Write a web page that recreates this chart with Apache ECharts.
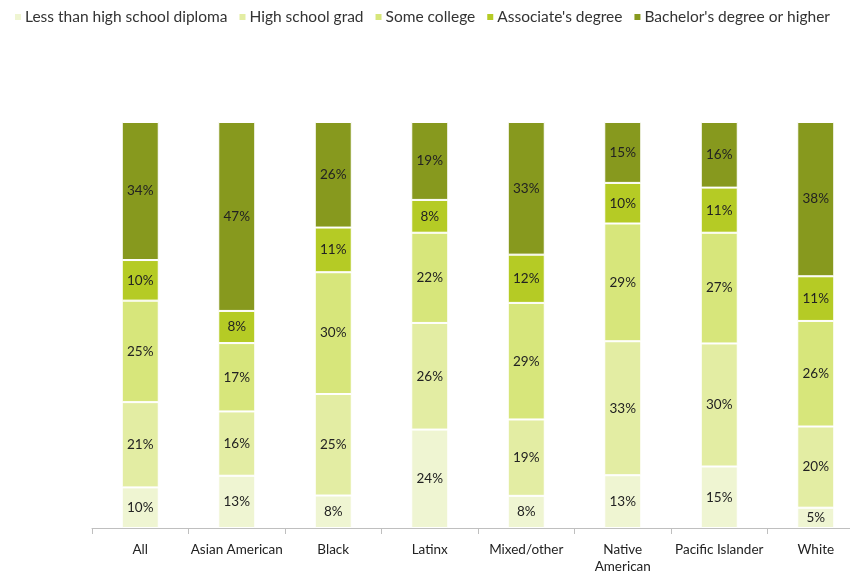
<!DOCTYPE html>
<html>
<head>
<meta charset="utf-8">
<script src="https://cdn.jsdelivr.net/npm/echarts@6/dist/echarts.min.js"></script>
<style>
  html, body { margin: 0; padding: 0; background: #fff; overflow: hidden; }
  #chart { width: 880px; height: 575px; }
</style>
</head>
<body>
<div id="chart"></div>
<script>
const categories = ['All', 'Asian American', 'Black', 'Latinx', 'Mixed/other', 'Native\nAmerican', 'Pacific Islander', 'White'];
const seriesNames = ['Less than high school diploma', 'High school grad', 'Some college', "Associate's degree", "Bachelor's degree or higher"];
const lessThanHS = [10, 13, 8, 24, 8, 13, 15, 5];
const hsGrad     = [21, 16, 25, 26, 19, 33, 30, 20];
const someCollege= [25, 17, 30, 22, 29, 29, 27, 26];
const associates = [10, 8, 11, 8, 12, 10, 11, 11];
const bachelors  = [34, 47, 26, 19, 33, 15, 16, 38];
const colors = ['#eff5d2', '#e3eda3', '#d7e67b', '#b5cb25', '#87991e'];

const groups = [lessThanHS, hsGrad, someCollege, associates, bachelors];
// each column is shown as a 100% stack of its rounded shares
const totals = categories.map((_, i) => groups.reduce((s, g) => s + g[i], 0));

const chart = echarts.init(document.getElementById('chart'));
chart.setOption({
  animation: false,
  textStyle: { fontFamily: 'Lato, "Open Sans", sans-serif' },
  legend: {
    left: 8, top: 4, width: 860,
    itemWidth: 8, itemHeight: 8, itemGap: 10,
    icon: 'rect',
    textStyle: { fontSize: 15.5, color: '#333', padding: [0, 0, 0, -2] },
    data: seriesNames
  },
  grid: { left: 92, top: 122, width: 772, height: 409 },
  xAxis: {
    type: 'category',
    data: categories,
    axisLine: { lineStyle: { color: '#bfbfbf' } },
    axisTick: { show: true, length: 6, lineStyle: { color: '#bfbfbf' } },
    axisLabel: { color: '#222', fontSize: 13.5, margin: 13, lineHeight: 17, interval: 0 }
  },
  yAxis: { type: 'value', min: 0, max: 100, show: false },
  series: groups.map((g, k) => ({
    name: seriesNames[k],
    type: 'bar',
    stack: 'total',
    barWidth: 37,
    itemStyle: { color: colors[k], borderColor: '#fff', borderWidth: 1 },
    label: {
      show: true, position: 'inside', color: '#222', fontSize: 13.5,
      formatter: p => g[p.dataIndex] + '%'
    },
    data: g.map((v, i) => v / totals[i] * 100)
  }))
});
</script>
</body>
</html>
